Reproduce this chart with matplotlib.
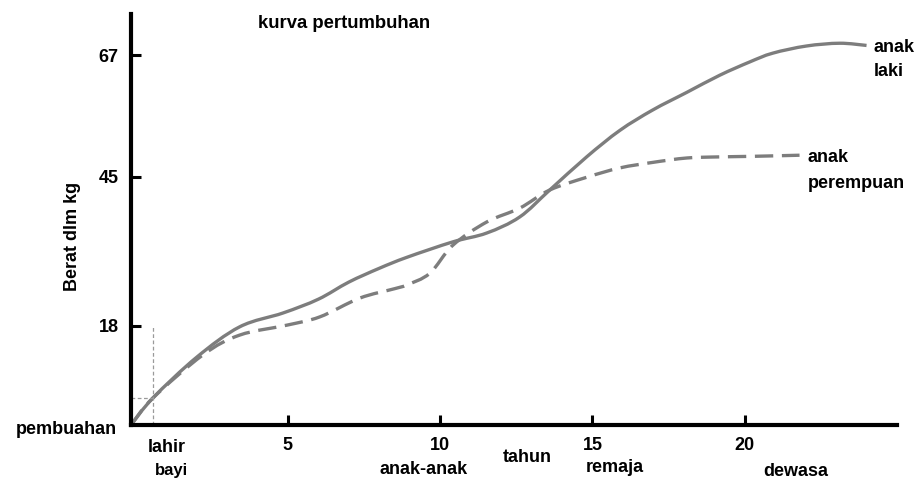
import matplotlib.pyplot as plt
from matplotlib.path import Path
from matplotlib.patches import PathPatch

plt.switch_backend('Agg')
plt.rcParams['font.family'] = ['Liberation Sans', 'DejaVu Sans']
plt.rcParams['font.weight'] = 'bold'

# values (age in years, weight in kg)
boy_age = [-0.15, 0.57, 2.01, 3.42, 4.84, 6.0, 7.0, 8.0, 8.91, 10.42, 11.53, 12.61,
           13.6, 14.81, 15.9, 16.98, 18.1, 19.18, 20.16, 20.92, 22.03, 23.12, 24.0]
boy_weight = [0, 4.9, 12.3, 17.8, 20.3, 22.8, 25.9, 28.4, 30.4, 33.2, 34.8, 37.7,
              42.6, 48.6, 53.4, 57.1, 60.3, 63.4, 65.8, 67.4, 68.7, 69.2, 68.8]
girl_age = [-0.15, 0.57, 2.21, 3.42, 4.97, 6.05, 7.36, 8.5, 8.91, 9.66, 10.42, 11.53,
            12.61, 13.6, 14.81, 15.9, 16.98, 18.1, 19.18, 20.26, 21.8]
girl_weight = [0, 4.9, 12.7, 16.3, 18.1, 19.6, 23.0, 24.7, 25.4, 27.5, 32.6, 36.8,
               39.3, 42.6, 44.9, 46.6, 47.6, 48.4, 48.6, 48.7, 48.9]

birth_age = 0.57
birth_weight = 4.9
birth_guide_top = 17.7

x_ticks = [5, 10, 15, 20]
x_tick_labels = ['5', '10', '15', '20']
y_ticks = [18, 45, 67]
y_tick_labels = ['18', '45', '67']


def smooth_path(xs, ys):
    # Catmull-Rom through the read points, drawn as cubic Bezier segments
    pts = list(zip(xs, ys))
    n = len(pts)
    verts = [pts[0]]
    codes = [Path.MOVETO]
    for i in range(n - 1):
        p0 = pts[max(i - 1, 0)]
        p1 = pts[i]
        p2 = pts[i + 1]
        p3 = pts[min(i + 2, n - 1)]
        c1 = (p1[0] + (p2[0] - p0[0]) / 6, p1[1] + (p2[1] - p0[1]) / 6)
        c2 = (p2[0] - (p3[0] - p1[0]) / 6, p2[1] - (p3[1] - p1[1]) / 6)
        verts += [c1, c2, p2]
        codes += [Path.CURVE4] * 3
    return Path(verts, codes)


W, H = 920, 482
fig = plt.figure(figsize=(W / 100, H / 100), dpi=100)
ax = fig.add_axes([131 / W, (H - 425) / H, (897 - 131) / W, (425 - 14) / H])

ax.add_patch(PathPatch(smooth_path(boy_age, boy_weight), fill=False,
                       edgecolor='#7d7d7d', lw=2.4, capstyle='butt'))
ax.add_patch(PathPatch(smooth_path(girl_age, girl_weight), fill=False,
                       edgecolor='#7d7d7d', lw=2.4, ls=(0, (5.5, 2.6))))

# birth guide lines
ax.plot([birth_age, birth_age], [0, birth_guide_top], color='#9a9a9a', lw=0.9, ls=(0, (3, 2)))
ax.plot([-0.15, birth_age], [birth_weight, birth_weight], color='#9a9a9a', lw=0.9, ls=(0, (3, 2)))

ax.set_xlim(-0.15, 25)
ax.set_ylim(0, 74.5)

for s in ['top', 'right']:
    ax.spines[s].set_visible(False)
for s in ['left', 'bottom']:
    ax.spines[s].set_linewidth(3)
    ax.spines[s].set_color('black')

ax.set_xticks(x_ticks, x_tick_labels)
ax.set_yticks(y_ticks, y_tick_labels)
ax.tick_params(axis='both', direction='in', length=7, width=2.2, labelsize=13)
ax.tick_params(axis='x', pad=9)
ax.tick_params(axis='y', pad=9)


def ftext(x, y, s, size=13, **kw):
    fig.text(x / W, 1 - y / H, s, fontsize=size, fontweight='bold', **kw)


ftext(258, 24, 'kurva pertumbuhan', size=13.3, va='center', ha='left')
ftext(73, 236, 'Berat dlm kg', va='center', ha='center', rotation=90)
ftext(117, 429, 'pembuahan', va='center', ha='right')
ftext(148, 448, 'lahir', va='center', ha='left')
ftext(155, 470, 'bayi', size=12, va='center', ha='left')
ftext(380, 469, 'anak-anak', va='center', ha='left')
ftext(503, 457, 'tahun', va='center', ha='left')
ftext(586, 468, 'remaja', va='center', ha='left')
ftext(763, 471, 'dewasa', va='center', ha='left')
ftext(874, 47, 'anak', va='center', ha='left')
ftext(874, 72, 'laki', va='center', ha='left')
ftext(808, 157, 'anak', va='center', ha='left')
ftext(808, 183, 'perempuan', va='center', ha='left')

fig.savefig('out.png', dpi=100)
